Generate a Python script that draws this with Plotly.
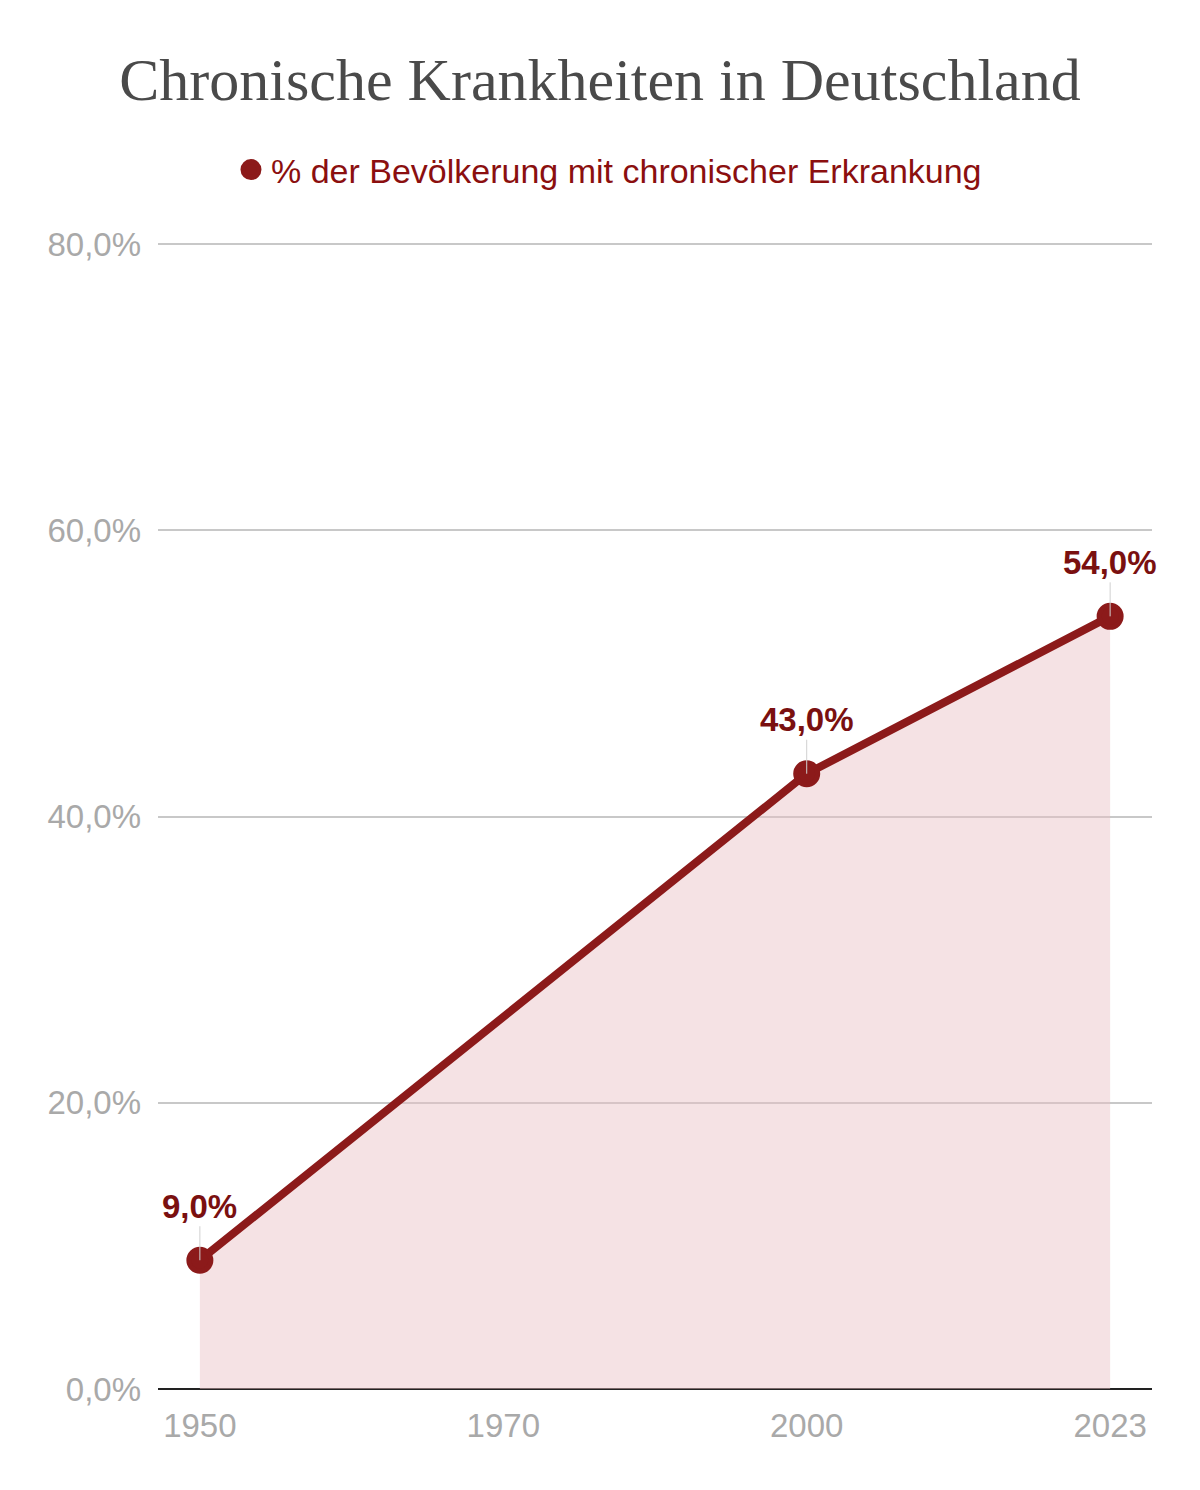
import plotly.graph_objects as go

# Daten
jahre = ["1950", "1970", "2000", "2023"]
anteil = [9.0, None, 43.0, 54.0]  # % der Bevölkerung, 1970 ohne Wert
y_ticks = [0, 20, 40, 60, 80]


def prozent(v):
    return f"{v:.1f}".replace(".", ",") + "%"


dunkelrot = "#8c1a1a"
labelrot = "#7a1010"
grau = "#a9a9a9"

fig = go.Figure()

# Fläche + Linie
fig.add_trace(go.Scatter(
    x=jahre, y=anteil,
    mode="lines",
    connectgaps=True,
    fill="tozeroy",
    fillcolor="rgba(232,190,196,0.45)",
    line=dict(color=dunkelrot, width=8),
    showlegend=False,
    hoverinfo="skip",
))

# Punkte (auch Legendeneintrag)
fig.add_trace(go.Scatter(
    x=jahre, y=anteil,
    mode="markers",
    name="% der Bevölkerung mit chronischer Erkrankung",
    marker=dict(color=dunkelrot, size=22, line=dict(color=dunkelrot, width=5)),
))

# Datenbeschriftungen mit feiner Führungslinie
# (Kategorie-Achse: Annotation-x als Kategorieindex)
for i, v in enumerate(anteil):
    if v is None:
        continue
    fig.add_annotation(
        x=i, y=v,
        text="<b>" + prozent(v) + "</b>",
        showarrow=True, arrowhead=0, arrowwidth=1, arrowcolor="#d0d0d0",
        standoff=0, ax=0, ay=-54,
        font=dict(family="Liberation Sans, Arial", size=33, color=labelrot),
    )

fig.update_layout(
    width=1184, height=1474,
    paper_bgcolor="white", plot_bgcolor="white",
    margin=dict(l=150, r=40, t=222, b=93),
    title=dict(
        text="Chronische Krankheiten in Deutschland",
        x=0.5, xanchor="center", y=0.9515, yanchor="middle",
        font=dict(family="Liberation Serif, Times New Roman", size=60, color="#4a4a4a"),
    ),
    legend=dict(
        orientation="h", x=0.4537, xanchor="center", y=1.0518, yanchor="middle",
        font=dict(family="Liberation Sans, Arial", size=34, color="#8b0f0f"),
        itemsizing="trace",
    ),
    xaxis=dict(
        type="category",
        range=[-0.138, 3.138],
        showgrid=False,
        showline=False,
        ticks="",
        ticklabelstandoff=14,
        tickfont=dict(family="Liberation Sans, Arial", size=33, color=grau),
    ),
    yaxis=dict(
        range=[0, 81],
        tickvals=y_ticks,
        ticktext=[prozent(t) for t in y_ticks],
        showgrid=True, gridcolor="#c8c8c8", gridwidth=1.5,
        zeroline=True, zerolinecolor="#222222", zerolinewidth=2,
        showline=False,
        ticks="",
        ticklabelstandoff=16,
        tickfont=dict(family="Liberation Sans, Arial", size=33, color=grau),
    ),
)

fig.write_html("out.html")
